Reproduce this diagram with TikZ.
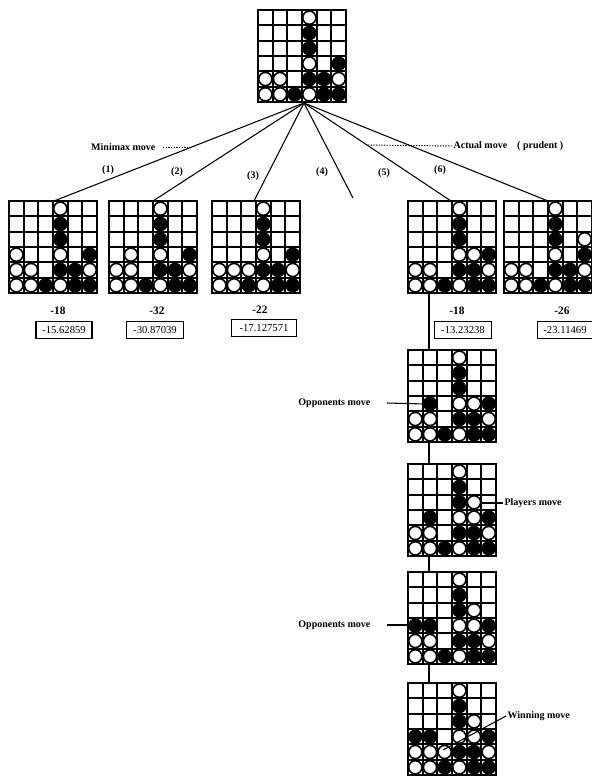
\documentclass[tikz,border=0pt]{standalone}
\usepackage{fontspec}
\setmainfont{Liberation Serif}
\usetikzlibrary{calc}
\newcommand\cw{14.667}
\newcommand\rh{15.333}
\newcommand\drawboard[3]{%
 \edef\wlist{#2}\edef\blist{#3}%
 \begin{scope}[shift={(#1.north west)}]
  \foreach \i in {1,...,5} {\draw[gridline] (\i*\cw,0) -- (\i*\cw,92);}
  \foreach \j in {1,...,5} {\draw[gridline] (0,\j*\rh) -- (88,\j*\rh);}
  \foreach \bx/\by in \wlist {\filldraw[wdisc] ({(\bx-0.5)*\cw},{(\by-0.5)*\rh}) circle[radius=6.6];}
  \foreach \bx/\by in \blist {\fill[bdisc] ({(\bx-0.5)*\cw},{(\by-0.5)*\rh}) circle[radius=7.3];}
  \draw[bordline] (0,0) rectangle (88,92);
 \end{scope}}
\begin{document}
\begin{tikzpicture}[x=0.75pt,y=-0.75pt,
  gridline/.style={line width=1.3pt},
  bordline/.style={line width=1.6pt},
  wdisc/.style={fill=white,draw=black,line width=1.2pt},
  bdisc/.style={fill=black},
  boardnode/.style={minimum width=66pt,minimum height=69pt,inner sep=0pt,outer sep=0pt},
  conn/.style={line width=0.8pt},
  lbl/.style={font=\fontsize{7.5}{8}\selectfont\bfseries,inner sep=1pt},
  score/.style={font=\fontsize{8.5}{9}\selectfont\bfseries,inner sep=1pt},
  valbox/.style={draw,line width=0.9pt,font=\fontsize{8}{9}\selectfont,minimum height=12.5pt,inner sep=2pt},
  dotl/.style={line width=0.7pt,dash pattern=on 1pt off 1pt}]
\useasboundingbox (0,0) rectangle (592,778);
% boards
\node[boardnode] (top) at (302,56) {};
\node[boardnode] (b1) at (53,247) {};
\node[boardnode] (b2) at (153,247) {};
\node[boardnode] (b3) at (256,247) {};
\node[boardnode] (b5) at (452,247) {};
\node[boardnode] (b6) at (548,247) {};
\node[boardnode] (ca) at (452,396) {};
\node[boardnode] (cb) at (452,510) {};
\node[boardnode] (cc) at (452,618) {};
\node[boardnode] (cd) at (452,729) {};
\def\W{4/1,4/4,1/5,2/5,6/5,1/6,2/6,4/6}
\def\B{4/2,4/3,6/4,4/5,5/5,3/6,5/6,6/6}
\drawboard{top}{\W}{\B}
\drawboard{b1}{\W,1/4}{\B}
\drawboard{b2}{\W,2/4}{\B}
\drawboard{b3}{\W,3/5}{\B}
\drawboard{b5}{\W,5/4}{\B}
\drawboard{b6}{\W,6/3}{\B}
\drawboard{ca}{\W,5/4}{\B,2/4}
\drawboard{cb}{\W,5/4,5/3}{\B,2/4}
\drawboard{cc}{\W,5/4,5/3}{\B,2/4,1/4}
\drawboard{cd}{\W,5/4,5/3,3/5}{\B,2/4,1/4}
% fan
\coordinate (fan) at (304,103);
\coordinate (end4) at (353,198);
\draw[conn] (fan) -- ($(b1.north west)+(45,0)$);
\draw[conn] (fan) -- ($(b2.north west)+(44,0)$);
\draw[conn] (fan) -- ($(b3.north west)+(42,0)$);
\draw[conn] (fan) -- (end4);
\draw[conn] (fan) -- ($(b5.north west)+(43,0)$);
\draw[conn] (fan) -- ($(b6.north west)+(44,0)$);
\node[lbl] (n1) at (108,170) {(1)};
\node[lbl] (n2) at (177,172) {(2)};
\node[lbl] (n3) at (253,176) {(3)};
\node[lbl] (n4) at (322,172) {(4)};
\node[lbl] (n5) at (384,173) {(5)};
\node[lbl] (n6) at (440,170) {(6)};
% move annotations
\node[lbl,anchor=east] (mm) at (157,147) {Minimax move};
\coordinate (mmend) at (192,147);
\draw[dotl] ($(mm.east)+(6,0)$) -- (mmend);
\node[lbl,anchor=west] (am) at (452,146) {Actual move\quad ( prudent )};
\coordinate (amend) at (368,145);
\draw[dotl] (amend) -- (am.west);
% scores
\node[score] (s1) at (58,311) {-18};
\node[score] (s2) at (157,311) {-32};
\node[score] (s3) at (260,310) {-22};
\node[score] (s5) at (457,311) {-18};
\node[score] (s6) at (562,311) {-26};
\node[valbox,minimum width=42pt] (v1) at (64,330) {-15.62859};
\node[valbox,minimum width=43pt] (v2) at (155,330) {-30.87039};
\node[valbox,minimum width=49pt] (v3) at (264,328) {-17.127571};
\node[valbox,minimum width=43pt] (v5) at (463,330) {-13.23238};
\node[valbox,minimum width=41pt] (v6) at (565,330) {-23.11469};
% chain
\draw[conn] ($(b5.south west)+(21,0)$) -- ($(ca.north west)+(21,0)$);
\draw[conn] ($(ca.south west)+(21,0)$) -- ($(cb.north west)+(21,0)$);
\draw[conn] ($(cb.south west)+(21,0)$) -- ($(cc.north west)+(21,0)$);
\draw[conn] ($(cc.south west)+(21,0)$) -- ($(cd.north west)+(21,0)$);
\node[lbl,anchor=east] (oa) at (372,403) {Opponents move};
\draw[conn] ($(oa.east)+(15,0)$) -- ($(ca.north west)+(17,54)$);
\node[lbl,anchor=west] (pm) at (503,503) {Players move};
\draw[conn] ($(cb.north west)+(74,39)$) -- (pm.west);
\node[lbl,anchor=east] (oc) at (372,625) {Opponents move};
\draw[conn] ($(oc.east)+(15,0)$) -- ($(cc.north west)+(3,53)$);
\node[lbl,anchor=west] (wm) at (506,716) {Winning move};
\coordinate (wmtip) at (443,750);
\draw[conn] (wm.west) -- (wmtip);
\end{tikzpicture}
\end{document}
